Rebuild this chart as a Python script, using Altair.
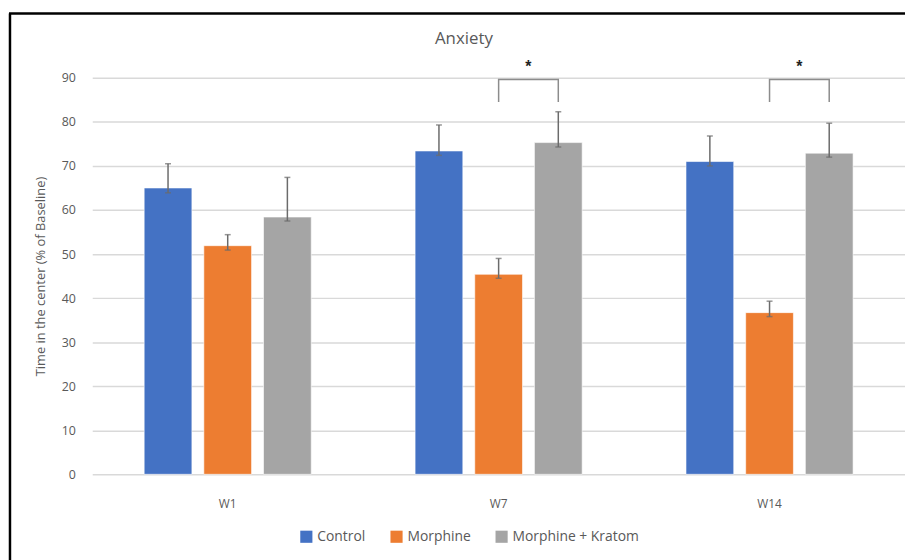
import altair as alt
import pandas as pd

groups = ["W1", "W7", "W14"]
treatments = ["Control", "Morphine", "Morphine + Kratom"]
colors = ["#4472C4", "#ED7D31", "#A5A5A5"]

means = {
    "W1": [65.0, 51.9, 58.4],
    "W7": [73.4, 45.4, 75.3],
    "W14": [71.0, 36.7, 72.9],
}
err_hi = {
    "W1": [70.5, 54.4, 67.4],
    "W7": [79.3, 49.0, 82.3],
    "W14": [76.8, 39.3, 79.7],
}
err_lo = {
    "W1": [63.9, 50.9, 57.5],
    "W7": [72.4, 44.5, 74.3],
    "W14": [70.0, 35.8, 72.0],
}

# significance brackets (Morphine vs Morphine + Kratom)
sig_groups = ["W7", "W14"]
bracket_top = 89.6
bracket_leg = 84.5
star_y = 93.0
chart_title = "Anxiety"

rows = []
for g in groups:
    for i, t in enumerate(treatments):
        rows.append({"week": g, "treatment": t, "mean": means[g][i],
                     "lo": err_lo[g][i], "hi": err_hi[g][i]})
df = pd.DataFrame(rows)

brows = []
for g in sig_groups:
    pts = [("Morphine", bracket_leg), ("Morphine", bracket_top),
           ("Morphine + Kratom", bracket_top), ("Morphine + Kratom", bracket_leg)]
    for k, (t, y) in enumerate(pts):
        brows.append({"week": g, "treatment": t, "y": y, "order": k})
bdf = pd.DataFrame(brows)
sdf = pd.DataFrame({"week": sig_groups, "treatment": ["Morphine"] * 2,
                    "y": [star_y] * 2, "label": ["*"] * 2})

W, H = 820, 400
FONT = "Open Sans"
xenc = alt.X("week:N", sort=groups, title=None,
             scale=alt.Scale(paddingInner=0, paddingOuter=0),
             axis=alt.Axis(labelPadding=24, labelFontSize=12, labelColor="#595959",
                           ticks=False, domain=False, labelAngle=0,
                           labelFont=FONT))
xoff = alt.XOffset("treatment:N", sort=treatments,
                   scale=alt.Scale(paddingInner=0.2, paddingOuter=0.87))
yscale = alt.Scale(domain=[0, 90], nice=False)

bars = alt.Chart(df).mark_bar(stroke="white", strokeWidth=1, strokeOpacity=0.6).encode(
    x=xenc,
    xOffset=xoff,
    y=alt.Y("mean:Q", scale=yscale,
            title="Time in the center (% of Baseline)",
            axis=alt.Axis(values=list(range(0, 91, 10)), grid=True,
                          gridColor="#D9D9D9", gridWidth=1.5,
                          domain=False, ticks=False, labelPadding=17,
                          labelFontSize=12.5, labelColor="#595959",
                          labelFont=FONT,
                          titleFont=FONT, titleFontSize=13,
                          titleFontWeight="normal", titleColor="#595959",
                          titlePadding=14)),
    color=alt.Color("treatment:N", sort=treatments,
                    scale=alt.Scale(domain=treatments, range=colors),
                    legend=alt.Legend(title=None, orient="none", direction="horizontal",
                                      legendX=209, legendY=456,
                                      symbolType="square", symbolSize=150,
                                      symbolStrokeWidth=0,
                                      labelFontSize=14, labelColor="#595959",
                                      labelFont=FONT, columnPadding=24)),
)

errs = alt.Chart(df).mark_rule(color="#6B6B6B", strokeWidth=1.5).encode(
    x=alt.X("week:N", sort=groups), xOffset=xoff,
    y=alt.Y("lo:Q", scale=yscale), y2="hi:Q")
cap_hi = alt.Chart(df).mark_tick(color="#6B6B6B", thickness=1.5, size=6).encode(
    x=alt.X("week:N", sort=groups), xOffset=xoff, y=alt.Y("hi:Q", scale=yscale))
cap_lo = alt.Chart(df).mark_tick(color="#6B6B6B", thickness=1.5, size=6).encode(
    x=alt.X("week:N", sort=groups), xOffset=xoff, y=alt.Y("lo:Q", scale=yscale))

brackets = alt.Chart(bdf).mark_line(color="#8C8C8C", strokeWidth=1.5).encode(
    x=alt.X("week:N", sort=groups), xOffset=alt.XOffset("treatment:N", sort=treatments),
    y=alt.Y("y:Q", scale=yscale), detail="week:N", order="order:Q")
stars = alt.Chart(sdf).mark_text(fontSize=16, fontWeight="bold", dx=30, dy=2,
                                 color="#222222").encode(
    x=alt.X("week:N", sort=groups), xOffset=alt.XOffset("treatment:N", sort=treatments),
    y=alt.Y("y:Q", scale=yscale), text="label:N")

one = pd.DataFrame({"t": [chart_title]})
title_mark = alt.Chart(one).mark_text(fontSize=17, color="#595959", font=FONT,
                                      align="center", baseline="middle").encode(
    x=alt.value(375), y=alt.value(-39), text="t:N")
border_left = alt.Chart(one).mark_rule(color="black", strokeWidth=2.5).encode(
    x=alt.value(-83), y=alt.value(-65), y2=alt.value(490))
border_top = alt.Chart(one).mark_rule(color="black", strokeWidth=2.5).encode(
    x=alt.value(-84), x2=alt.value(830), y=alt.value(-65))

chart = alt.layer(bars, errs, cap_hi, cap_lo, brackets, stars,
                  title_mark, border_left, border_top).properties(
    width=W, height=H,
    autosize=alt.AutoSizeParams(type="none"),
    padding={"left": 85, "top": 68, "right": 0, "bottom": 84},
).configure_view(stroke=None)

chart.save("out.html", embed_options={"renderer": "svg", "actions": False})
